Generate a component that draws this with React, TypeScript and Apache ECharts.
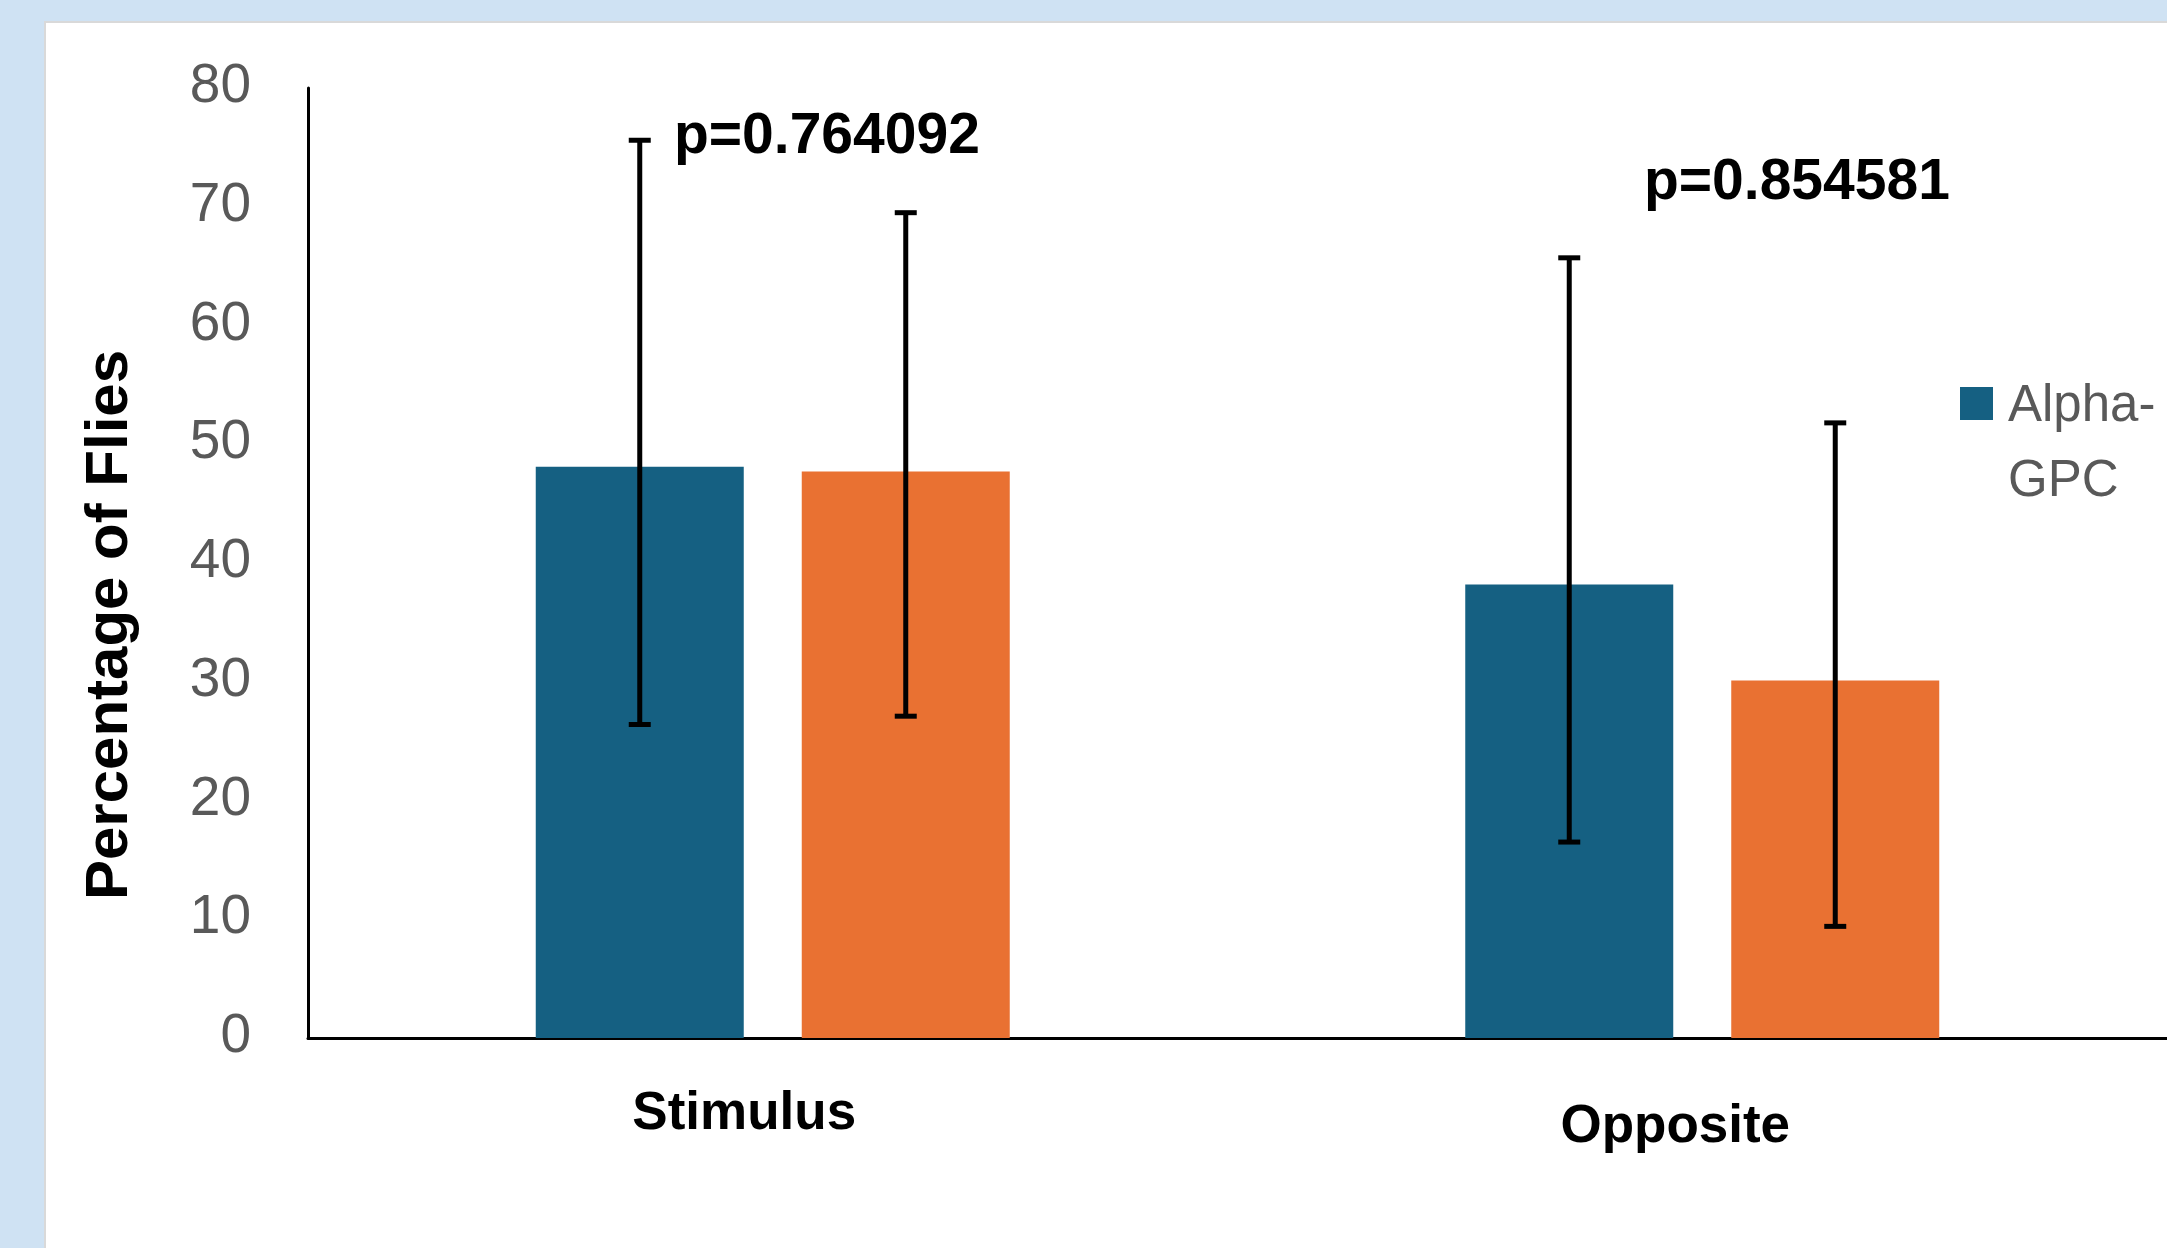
import React, { useEffect, useRef } from "react";
import * as echarts from "echarts";

const categories = ["Stimulus", "Opposite"];
const seriesNames = ["Alpha-GPC", "Control"];
const alphaValues = [48.1, 38.2];
const controlValues = [47.7, 30.1];
const alphaLow = [26.4, 16.5];
const alphaHigh = [75.6, 65.7];
const controlLow = [27.1, 9.4];
const controlHigh = [69.5, 51.8];
const pLabels = ["p=0.764092", "p=0.854581"];
const yMin = 0;
const yMax = 80;
const yInterval = 10;
const yTitle = "Percentage of Flies";

const BLUE = "#156082";
const ORANGE = "#E97132";
const FONT = "'Liberation Sans', Arial, sans-serif";
const BAR_W = 208;
const BAR_GAP = 58;

function errorSeries(low: number[], high: number[], offset: number) {
  return {
    type: "custom",
    z: 5,
    silent: true,
    data: categories.map((_, i) => [i, low[i], high[i]]),
    encode: { x: 0, y: [1, 2] },
    renderItem: (params: any, api: any) => {
      const idx = api.value(0);
      const top = api.coord([idx, api.value(2)]);
      const bot = api.coord([idx, api.value(1)]);
      const x = top[0] + offset;
      const cap = 11;
      const style = { stroke: "#000", lineWidth: 5 };
      return {
        type: "group",
        children: [
          { type: "line", shape: { x1: x, y1: top[1], x2: x, y2: bot[1] }, style },
          { type: "line", shape: { x1: x - cap, y1: top[1], x2: x + cap, y2: top[1] }, style },
          { type: "line", shape: { x1: x - cap, y1: bot[1], x2: x + cap, y2: bot[1] }, style },
        ],
      };
    },
  };
}

export default function App() {
  const ref = useRef<HTMLDivElement>(null);
  useEffect(() => {
    if (!ref.current) return;
    const chart = echarts.init(ref.current, null, { renderer: "svg" });
    const off = (BAR_W + BAR_GAP) / 2;
    chart.setOption({
      animation: false,
      backgroundColor: "#CFE2F3",
      textStyle: { fontFamily: FONT },
      graphic: [
        {
          type: "rect",
          z: -10,
          shape: { x: 45, y: 22, width: 2200, height: 1300 },
          style: { fill: "#ffffff", stroke: "#D9D9D9", lineWidth: 2 },
        },
        {
          type: "text",
          z: 10,
          style: {
            x: 674,
            y: 133,
            text: pLabels[0],
            fill: "#000",
            font: `bold 57px ${FONT}`,
            verticalAlign: "middle",
          },
        },
        {
          type: "text",
          z: 10,
          style: {
            x: 1644,
            y: 179,
            text: pLabels[1],
            fill: "#000",
            font: `bold 57px ${FONT}`,
            verticalAlign: "middle",
          },
        },
      ],
      legend: {
        data: [seriesNames[0]],
        left: 1955,
        top: 286,
        itemWidth: 33,
        itemHeight: 33,
        icon: "rect",
        formatter: () => "\nAlpha-\nGPC",
        textStyle: {
          fontFamily: FONT,
          fontSize: 51,
          color: "#595959",
          lineHeight: 75,
          padding: [0, 0, 0, 10],
        },
      },
      grid: { left: 308, top: 88, width: 1864, height: 950, containLabel: false },
      xAxis: {
        type: "category",
        data: categories,
        axisLine: { show: true, lineStyle: { color: "#000", width: 3 } },
        axisTick: { show: false },
        axisLabel: {
          margin: 46,
          formatter: (v: string) => (v === categories[0] ? `{a|${v}}` : `{b|${v}}`),
          rich: {
            a: { fontFamily: FONT, fontSize: 53, fontWeight: "bold", color: "#000", padding: [0, 57, 0, 0] },
            b: { fontFamily: FONT, fontSize: 53, fontWeight: "bold", color: "#000", padding: [13, 54, 0, 0] },
          },
        },
        splitLine: { show: false },
      },
      yAxis: {
        type: "value",
        min: yMin,
        max: yMax,
        interval: yInterval,
        name: yTitle,
        nameLocation: "middle",
        nameGap: 172,
        nameTextStyle: {
          fontFamily: FONT,
          fontSize: 60,
          fontWeight: "bold",
          color: "#000",
          padding: [0, 124, 0, 0],
        },
        axisLine: { show: true, lineStyle: { color: "#000", width: 3 } },
        axisTick: { show: false },
        splitLine: { show: false },
        axisLabel: {
          margin: 57,
          formatter: (v: number) => `{v|${v}}`,
          rich: {
            v: { fontFamily: FONT, fontSize: 55, color: "#595959", padding: [0, 0, 10, 0] },
          },
        },
      },
      series: [
        {
          name: seriesNames[0],
          type: "bar",
          data: alphaValues,
          barWidth: BAR_W,
          barGap: `${(BAR_GAP / BAR_W) * 100}%`,
          itemStyle: { color: BLUE },
        },
        {
          name: seriesNames[1],
          type: "bar",
          data: controlValues,
          barWidth: BAR_W,
          itemStyle: { color: ORANGE },
        },
        errorSeries(alphaLow, alphaHigh, -off),
        errorSeries(controlLow, controlHigh, off),
      ],
    });
    return () => chart.dispose();
  }, []);
  return (
    <div
      ref={ref}
      style={{ position: "absolute", left: 0, top: 0, width: 2167, height: 1248 }}
    />
  );
}
